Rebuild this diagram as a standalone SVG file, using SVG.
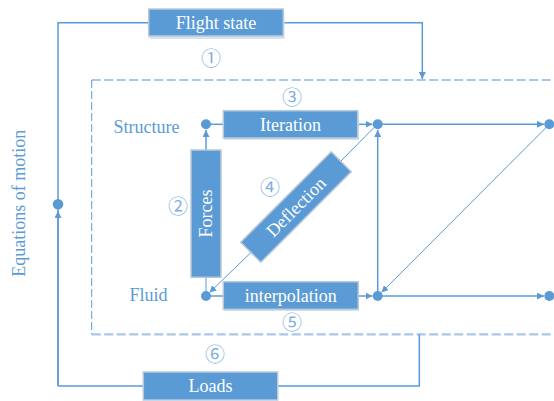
<svg xmlns="http://www.w3.org/2000/svg" width="554" height="401" viewBox="0 0 554 401">
  <style>
    .box { fill: #5B9BD5; stroke: #B9C9DA; stroke-width: 1.5; }
    .shadow { fill: #D5E2EF; }
    .btxt { font-family: "Liberation Serif", "Times New Roman", serif; font-size: 18px; fill: #FFFFFF; text-anchor: middle; }
    .lbl { font-family: "Liberation Serif", "Times New Roman", serif; font-size: 18px; fill: #5B9BD5; text-anchor: middle; }
    .num { font-family: "Noto Sans CJK SC", "DejaVu Sans", sans-serif; font-size: 20px; fill: #7FB0DF; text-anchor: middle; }
    .ln { fill: none; stroke: #5B9BD5; stroke-width: 1.5; }
    .thin { fill: none; stroke: #5B9BD5; stroke-width: 1; }
    .dot { fill: #5B9BD5; }
    .frame { fill: none; stroke: #A7C8E8; stroke-width: 2.2; stroke-dasharray: 9 3.5; }
    .frameL { fill: none; stroke: #5B9BD5; stroke-width: 1; stroke-dasharray: 8 3; }
  </style>
  <defs>
    <marker id="arr" viewBox="0 0 10 10" refX="10" refY="5" markerWidth="7" markerHeight="7" markerUnits="userSpaceOnUse" orient="auto">
      <path d="M0,0 L10,5 L0,10 Z" fill="#5B9BD5"/>
    </marker>
  </defs>

  <!-- coupling frame (dashed) -->
  <g id="frame">
    <path class="frame" d="M91.7,80 H554 M91.7,334.3 H554"/>
    <path class="frameL" d="M91.7,80 V334.3"/>
  </g>

  <!-- connectors -->
  <g id="connectors">
    <!-- outer loop -->
    <path class="ln" d="M58,386 V22.7 H149"/>
    <path class="ln" d="M283,22.7 H422.3 V79" marker-end="url(#arr)"/>
    <path class="ln" d="M58,386 V211" marker-end="url(#arr)"/>
    <path class="ln" d="M143.5,386 H58"/>
    <path class="ln" d="M278,386 H419.3 V334.3"/>
    <!-- structure row -->
    <path class="ln" d="M206,124.3 H223.3"/>
    <path class="ln" d="M357.7,124.3 H372.5" marker-end="url(#arr)"/>
    <path class="ln" d="M377.7,124.3 H544" marker-end="url(#arr)"/>
    <!-- fluid row -->
    <path class="ln" d="M206,296 H223.3"/>
    <path class="ln" d="M358.3,296 H372.5" marker-end="url(#arr)"/>
    <path class="ln" d="M377.7,296 H544" marker-end="url(#arr)"/>
    <!-- forces -->
    <path class="ln" d="M206,150 V130" marker-end="url(#arr)"/>
    <path class="thin" d="M206,277.3 V291"/>
    <!-- vertical link -->
    <path class="ln" d="M377.7,296 V130" marker-end="url(#arr)"/>
    <!-- deflection diagonal -->
    <path class="thin" d="M341,161 L374,127.5"/>
    <path class="thin" d="M251,252.5 L209.5,292.5" marker-end="url(#arr)"/>
    <!-- right diagonal -->
    <path class="thin" d="M549.3,124.3 L381.5,292.5" marker-end="url(#arr)"/>
  </g>

  <!-- junction points -->
  <g id="points">
    <circle class="dot" cx="58" cy="204.3" r="5.3"/>
    <circle class="dot" cx="206" cy="124.3" r="5"/>
    <circle class="dot" cx="377.7" cy="124.3" r="5"/>
    <circle class="dot" cx="549.3" cy="124.3" r="5"/>
    <circle class="dot" cx="206" cy="296" r="5"/>
    <circle class="dot" cx="377.7" cy="296" r="5"/>
    <circle class="dot" cx="549.3" cy="296" r="5"/>
  </g>

  <g id="flight-state">
    <rect class="shadow" x="149.5" y="11" width="135" height="28"/>
    <rect class="box" x="148.7" y="9" width="134.6" height="27"/>
    <text class="btxt" x="216" y="28.5">Flight state</text>
  </g>

  <g id="loads">
    <rect class="box" x="143.3" y="372" width="134.4" height="28"/>
    <text class="btxt" x="210.5" y="392">Loads</text>
  </g>

  <g id="iteration">
    <rect class="shadow" x="224" y="112.5" width="135" height="27.5"/>
    <rect class="box" x="223.3" y="110.7" width="134.4" height="27.3"/>
    <text class="btxt" x="290.5" y="130.5">Iteration</text>
  </g>

  <g id="interpolation">
    <rect class="shadow" x="224" y="283.5" width="135" height="27.5"/>
    <rect class="box" x="223.3" y="281.7" width="135" height="27.6"/>
    <text class="btxt" x="290.8" y="301.5">interpolation</text>
  </g>

  <g id="forces">
    <rect class="box" x="191" y="150" width="30" height="127.3"/>
    <text class="btxt" transform="translate(212,213.6) rotate(-90)">Forces</text>
  </g>

  <g id="deflection" transform="translate(296,207) rotate(-45)">
    <rect class="box" x="-64" y="-14.2" width="128" height="28.4"/>
    <text class="btxt" x="0" y="6">Deflection</text>
  </g>

  <!-- side labels -->
  <g id="labels">
    <text class="lbl" x="146.5" y="133">Structure</text>
    <text class="lbl" x="148.5" y="301">Fluid</text>
    <text class="lbl" transform="translate(25,203.3) rotate(-90)">Equations of motion</text>
  </g>

  <!-- step numbers -->
  <g id="steps">
    <text class="num" x="211" y="66">①</text>
    <text class="num" x="178" y="214">②</text>
    <text class="num" x="292" y="104.5">③</text>
    <text class="num" x="270" y="195">④</text>
    <text class="num" x="292" y="330">⑤</text>
    <text class="num" x="215" y="361.5">⑥</text>
  </g>
</svg>
